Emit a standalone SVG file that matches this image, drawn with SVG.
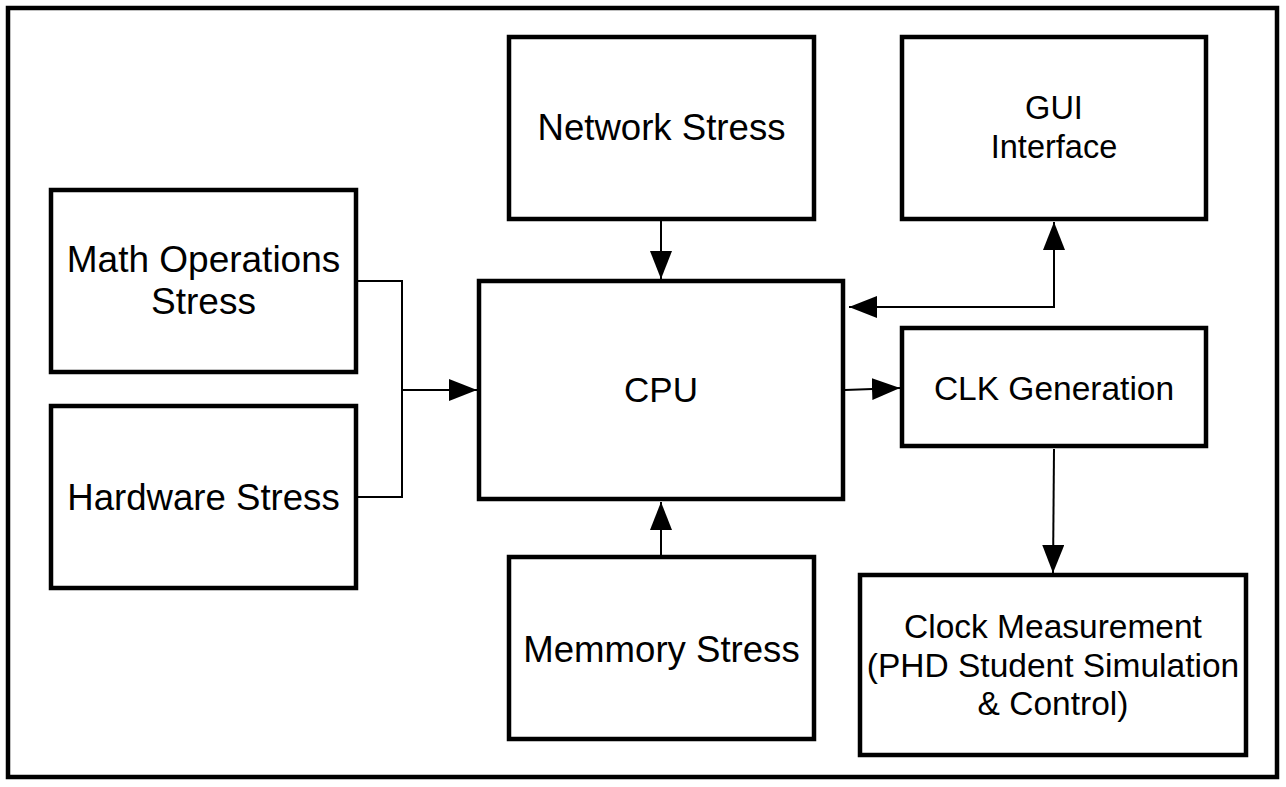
<svg xmlns="http://www.w3.org/2000/svg" width="1286" height="787" viewBox="0 0 1286 787">
<style>
.box{fill:#fff;stroke:#000;stroke-width:4.5}
.t{font-family:"Liberation Sans",Arial,sans-serif;fill:#000;text-anchor:middle}
.c{fill:none;stroke:#000;stroke-width:2}
</style>
<defs>
<marker id="ah" markerUnits="userSpaceOnUse" markerWidth="30" markerHeight="24" refX="28" refY="11" orient="auto-start-reverse">
<path d="M0,0 L28,11 L0,22 z" fill="#000"/>
</marker>
</defs>
<rect x="0" y="0" width="1286" height="787" fill="#fff"/>
<rect x="8" y="8" width="1269" height="769" fill="#fff" stroke="#000" stroke-width="4.5"/>
<g id="connectors">
<path class="c" d="M356,281 H402 V497 H356"/>
<path class="c" d="M402,390 H477" marker-end="url(#ah)"/>
<path class="c" d="M661,221 V279" marker-end="url(#ah)"/>
<path class="c" d="M849,307 H1054 V222" marker-start="url(#ah)" marker-end="url(#ah)"/>
<path class="c" d="M845,390 L900,388" marker-end="url(#ah)"/>
<path class="c" d="M1054,449 L1053,573" marker-end="url(#ah)"/>
<path class="c" d="M661,555 V502" marker-end="url(#ah)"/>
</g>
<g id="math">
<rect class="box" x="51" y="190" width="305" height="182"/>
<text class="t" x="203.5" y="272" font-size="37">Math Operations</text>
<text class="t" x="203.5" y="314" font-size="37">Stress</text>
</g>
<g id="hardware">
<rect class="box" x="51" y="406" width="305" height="182"/>
<text class="t" x="203.5" y="510" font-size="36.6">Hardware Stress</text>
</g>
<g id="network">
<rect class="box" x="509" y="37" width="305" height="182"/>
<text class="t" x="661.5" y="140" font-size="36.6">Network Stress</text>
</g>
<g id="gui">
<rect class="box" x="902" y="37" width="304" height="182"/>
<text class="t" x="1054" y="119" font-size="32.5">GUI</text>
<text class="t" x="1054" y="158" font-size="32.5">Interface</text>
</g>
<g id="cpu">
<rect class="box" x="479" y="281" width="364" height="218"/>
<text class="t" x="661" y="402" font-size="35">CPU</text>
</g>
<g id="clk">
<rect class="box" x="902" y="328" width="304" height="118"/>
<text class="t" x="1054" y="400" font-size="33.5">CLK Generation</text>
</g>
<g id="memory">
<rect class="box" x="509" y="557" width="305" height="182"/>
<text class="t" x="661.5" y="662" font-size="36.6">Memmory Stress</text>
</g>
<g id="clock">
<rect class="box" x="860" y="575" width="386" height="180"/>
<text class="t" x="1053" y="638" font-size="33.5">Clock Measurement</text>
<text class="t" x="1053" y="677" font-size="33.5">(PHD Student Simulation</text>
<text class="t" x="1053" y="715" font-size="33.5">&amp; Control)</text>
</g>
</svg>
